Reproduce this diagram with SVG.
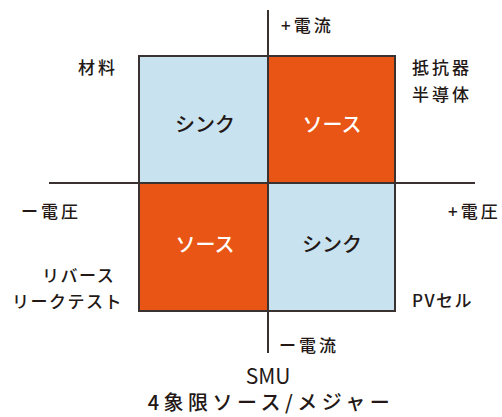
<svg xmlns="http://www.w3.org/2000/svg" width="502" height="417" viewBox="0 0 502 417">
<style>
.lbl{font-family:"Noto Sans CJK JP","Noto Sans",sans-serif;font-size:17px;font-weight:500;fill:#231815;letter-spacing:3px}
.k{letter-spacing:1.5px}
.q{font-family:"Noto Sans CJK JP","Noto Sans",sans-serif;font-size:20px;font-weight:500;text-anchor:middle}
.ax{stroke:#3a3230;stroke-width:2;fill:none}
.sink{fill:#c8e3ef}
.src{fill:#e85514}
.cap{font-family:"Noto Sans CJK JP","Noto Sans",sans-serif;font-size:20px;fill:#231815;text-anchor:middle}
</style>
<g id="q2"><rect class="sink" x="139" y="56" width="129" height="127"/><text class="q" x="205" y="132" fill="#231815">シンク</text></g>
<g id="q1"><rect class="src" x="268" y="56" width="127" height="127"/><text class="q" x="332" y="132" fill="#ffffff">ソース</text></g>
<g id="q3"><rect class="src" x="139" y="183" width="129" height="128"/><text class="q" x="205" y="252" fill="#ffffff">ソース</text></g>
<g id="q4"><rect class="sink" x="268" y="183" width="127" height="128"/><text class="q" x="332" y="252" fill="#231815">シンク</text></g>
<g id="connectors">
<rect class="ax" x="139" y="56" width="256" height="255"/>
<line class="ax" x1="268" y1="10" x2="268" y2="353"/>
<line class="ax" x1="49" y1="183" x2="475" y2="183"/>
</g>
<g id="labels">
<text class="lbl" x="281" y="32">+電流</text>
<text class="lbl" x="78" y="74">材料</text>
<text class="lbl" x="412" y="74">抵抗器</text>
<text class="lbl" x="412" y="101">半導体</text>
<text class="lbl" x="21" y="218">ー電圧</text>
<text class="lbl" x="448" y="218">+電圧</text>
<text class="lbl k" x="42" y="282">リバース</text>
<text class="lbl k" x="12" y="308">リークテスト</text>
<text class="lbl k" x="412" y="307">PVセル</text>
<text class="lbl" x="279" y="352">ー電流</text>
<text class="cap" x="268" y="384" style="font-size:21px">SMU</text>
<text class="cap" x="271" y="410" style="font-weight:500;letter-spacing:4.5px">4象限ソース/メジャー</text>
</g>
</svg>
